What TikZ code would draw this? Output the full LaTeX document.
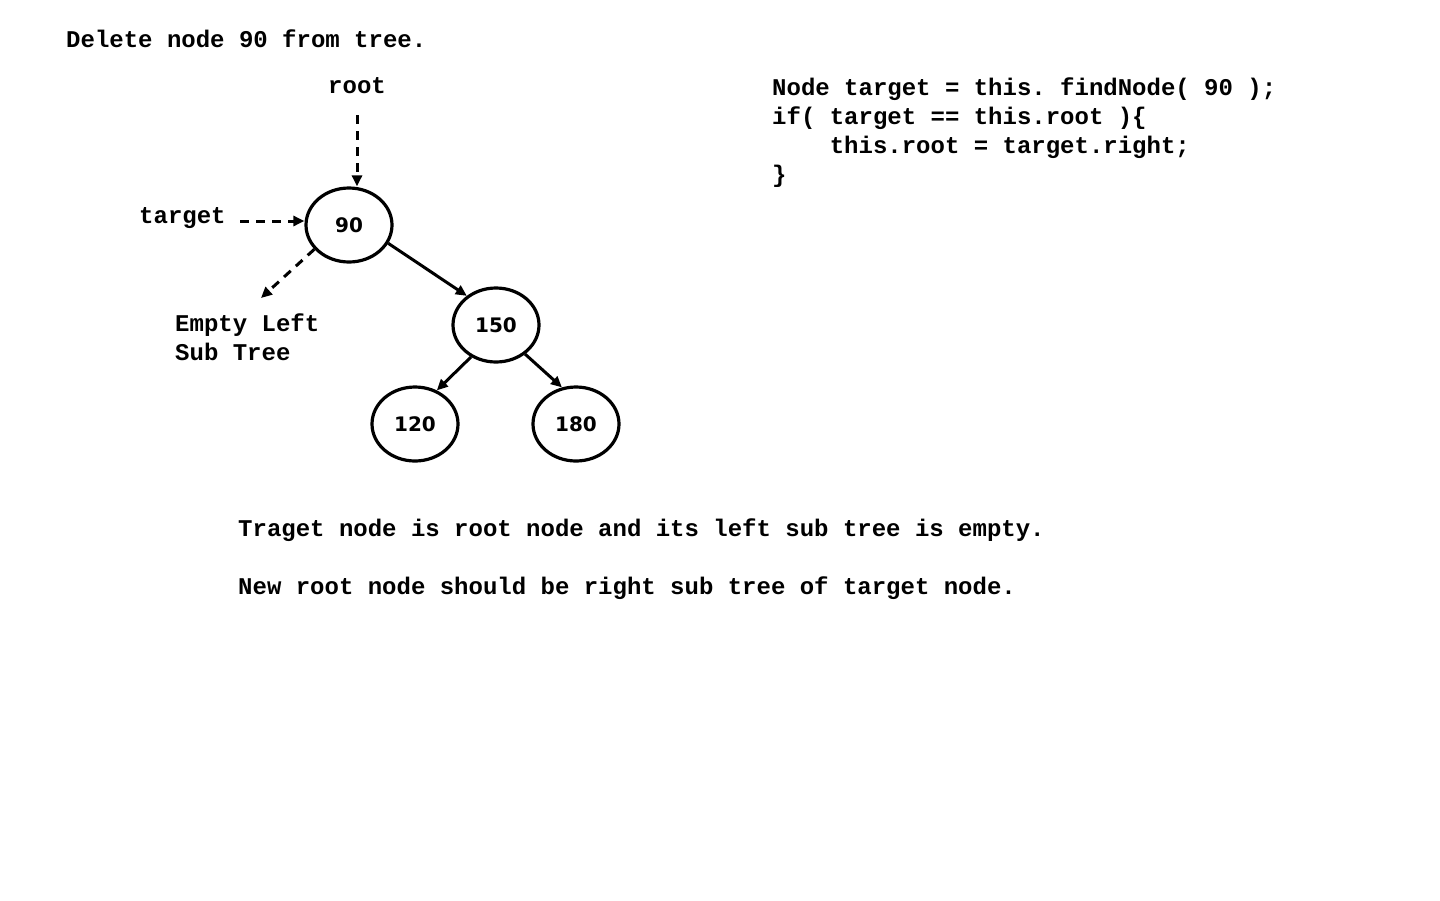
\documentclass[tikz,border=0pt]{standalone}
\usepackage{fontspec}
\setmonofont{Liberation Mono}
\newfontfamily\numfont{DejaVu Sans}
\usetikzlibrary{arrows.meta,shapes.geometric}
\tikzset{
  txt/.style={anchor=base west, inner sep=0pt, font=\ttfamily\bfseries\fontsize{24}{29}\selectfont},
  tnode/.style={draw, line width=3.2pt, ellipse, minimum width=86pt, minimum height=74pt, inner sep=0pt, font=\numfont\bfseries\fontsize{20}{24}\selectfont},
  edge/.style={line width=3pt, -{Triangle[length=11pt,width=10pt]}},
  dedge/.style={edge, dash pattern=on 9pt off 7pt},
}
\begin{document}
\begin{tikzpicture}[x=1pt,y=-1pt]
\useasboundingbox (0,0) rectangle (1440,900);
\fill[white] (0,0) rectangle (1440,900);
\node[txt] (title) at (66,47) {Delete node 90 from tree.};
\node[txt] (rootlbl) at (328,93) {root};
\node[txt] (targetlbl) at (139,223) {target};
\node[txt] (empty1) at (175,331) {Empty Left};
\node[txt] (empty2) at (175,360) {Sub Tree};
\node[txt] (code1) at (772,95) {Node target = this. findNode( 90 );};
\node[txt] (code2) at (772,124) {if( target == this.root )\{};
\node[txt] (code3) at (772,153) {\ \ \ \ this.root = target.right;};
\node[txt] (code4) at (772,182) {\}};
\node[txt] (note1) at (238,536) {Traget node is root node and its left sub tree is empty.};
\node[txt] (note2) at (238,594) {New root node should be right sub tree of target node.};

\node[tnode] (n90) at (349,225) {90};
\node[tnode] (n150) at (496,325) {150};
\node[tnode] (n120) at (415,424) {120};
\node[tnode] (n180) at (576,424) {180};

\coordinate (rootstart) at (357,115);
\coordinate (targetstart) at (240,221);
\coordinate (emptyend) at (261,298);

\draw[dedge] (rootstart) -- (n90.north -| rootstart);
\draw[dedge] (targetstart) -- (n90.west |- targetstart);
\draw[dedge] (n90.-145) -- (emptyend);
\draw[edge] (n90.-25) -- (n150.135);
\draw[edge] (n150.-128) -- (n120.57);
\draw[edge] (n150.-45) -- (n180.111);
\end{tikzpicture}
\end{document}
